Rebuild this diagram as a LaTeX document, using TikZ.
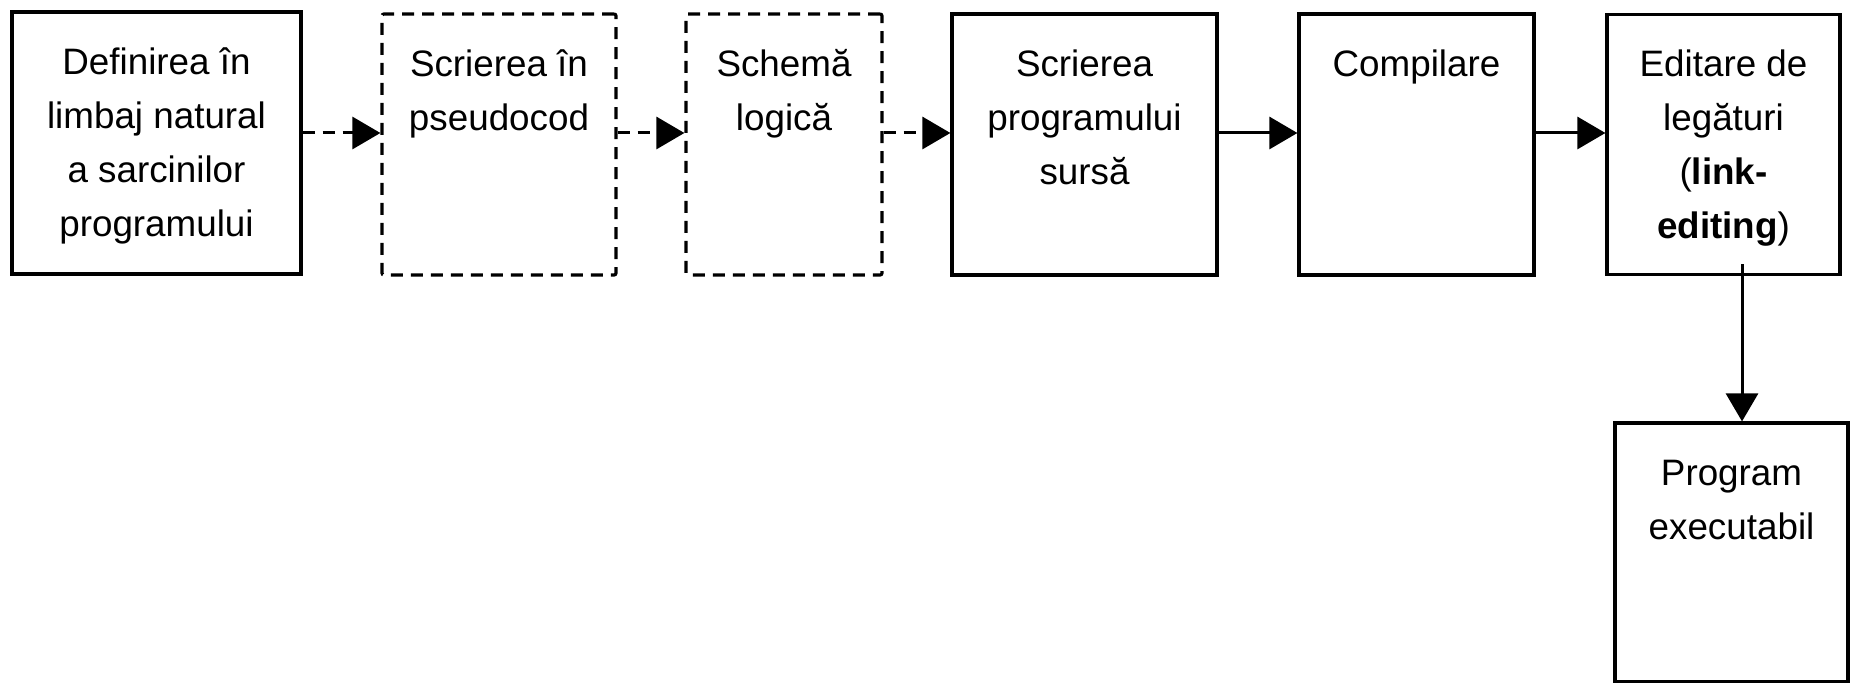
\documentclass[tikz,border=0pt]{standalone}
\usepackage{fontspec}
\setmainfont{Liberation Sans}
\usetikzlibrary{arrows.meta,calc}

\begin{document}
\begin{tikzpicture}[x=0.5pt,y=-0.5pt,
  box/.style={draw, line width=1.6pt, inner sep=0pt},
  dbox/.style={box, dash pattern=on 6pt off 4pt, rounded corners=1pt},
  lbl/.style={anchor=north, inner sep=0pt, font=\fontsize{18.4}{27}\selectfont},
  flow/.style={line width=1.5pt, -{Triangle[length=14pt,width=16pt]}},
  dflow/.style={flow, dash pattern=on 6pt off 4pt},
]
\useasboundingbox (0,0) rectangle (1856,683);

% process boxes
\node[box,  minimum width=144.5pt, minimum height=131pt]   (b1) at (156.5,143)   {};
\node[dbox, minimum width=117pt,   minimum height=130.5pt] (b2) at (499,144.5)   {};
\node[dbox, minimum width=98pt,    minimum height=130.5pt] (b3) at (784,144.5)   {};
\node[box,  minimum width=132.5pt, minimum height=130.5pt] (b4) at (1084.5,144.5) {};
\node[box,  minimum width=117.5pt, minimum height=130.5pt] (b5) at (1416.5,144.5) {};
\node[box,  minimum width=116.5pt, minimum height=130pt]   (b6) at (1723.5,144.5) {};
\node[box,  minimum width=116.5pt, minimum height=129.5pt] (b7) at (1731.5,552.5) {};

% box captions, aligned to the top of each box
\node[lbl] (t1) at ([yshift=-12.8pt]b1.north) {\begin{tabular}{@{}c@{}}Definirea în\\limbaj natural\\a sarcinilor\\programului\end{tabular}};
\node[lbl] (t2) at ([yshift=-12.8pt]b2.north) {\begin{tabular}{@{}c@{}}Scrierea în\\pseudocod\end{tabular}};
\node[lbl] (t3) at ([yshift=-12.8pt]b3.north) {\begin{tabular}{@{}c@{}}Schemă\\logică\end{tabular}};
\node[lbl] (t4) at ([yshift=-12.8pt]b4.north) {\begin{tabular}{@{}c@{}}Scrierea\\programului\\sursă\end{tabular}};
\node[lbl] (t5) at ([yshift=-12.8pt]b5.north) {\begin{tabular}{@{}c@{}}Compilare\end{tabular}};
\node[lbl] (t6) at ([yshift=-12.8pt]b6.north) {\begin{tabular}{@{}c@{}}Editare de\\legături\\(\textbf{link-}\\\textbf{editing})\end{tabular}};
\node[lbl] (t7) at ([yshift=-12.8pt]b7.north) {\begin{tabular}{@{}c@{}}Program\\executabil\end{tabular}};

% guide lines for the connectors
\coordinate (row) at (0,133);
\coordinate (col) at (1742,0);

% connectors
\draw[dflow] (b1.east |- row) -- (b2.west |- row);
\draw[dflow] (b2.east |- row) -- (b3.west |- row);
\draw[dflow] (b3.east |- row) -- (b4.west |- row);
\draw[flow]  (b4.east |- row) -- (b5.west |- row);
\draw[flow]  (b5.east |- row) -- (b6.west |- row);
\draw[flow]  ($(b6.south -| col)+(0,-12)$) -- (b7.north -| col);
\end{tikzpicture}
\end{document}
